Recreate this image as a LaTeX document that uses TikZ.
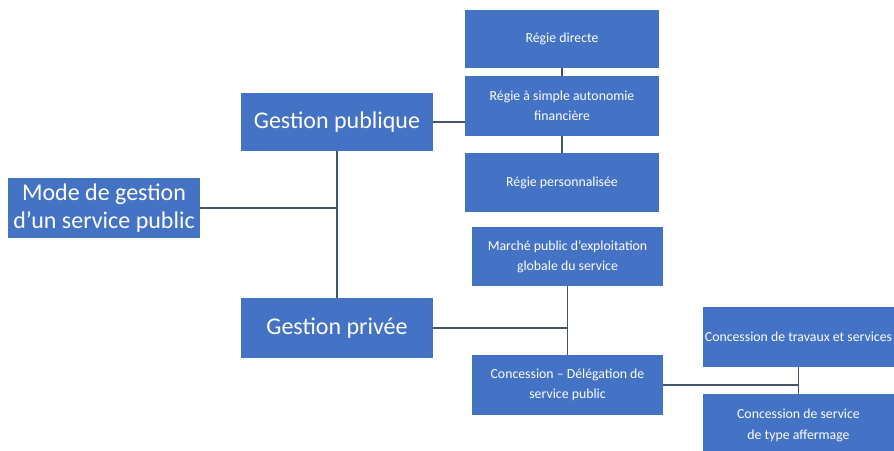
\documentclass[tikz,border=0pt]{standalone}
\usepackage{fontspec}
\setmainfont{Carlito}
\usepackage{tikz}
\usetikzlibrary{positioning, calc}
\definecolor{box_blue}{RGB}{68,114,196}
\definecolor{line_grey}{RGB}{68,84,106}

\begin{document}
\begin{tikzpicture}[x=1pt, y=-1pt,
    every node/.style={fill=box_blue, text=white, inner sep=0pt, align=center},
    bigbox/.style={minimum width=192pt, minimum height=60pt, font=\fontsize{24}{28}\selectfont},
    smallbox/.style={minimum width=194pt, minimum height=59pt, font=\fontsize{13.8}{20}\selectfont},
    link/.style={line_grey, line width=1.3pt}]
      \useasboundingbox (0,0) rectangle (894,450);
      \node[bigbox] (mode) at (104,208) {Mode de gestion\\d'un service public};
      \node[bigbox, minimum height=58pt] (gpub) at (337,122) {Gestion publique};
      \node[bigbox] (gpriv) at (337,328) {Gestion privée};
      \node[smallbox, minimum height=58pt] (rdir) at (562,39) {Régie directe};
      \node[smallbox, minimum height=60pt] (raut) at (562,106) {Régie à simple autonomie\\financière};
      \node[smallbox] (rpers) at (562,182.5) {Régie personnalisée};
      \node[smallbox, minimum width=191pt] (marche) at (567.5,256.5) {Marché public d'exploitation\\globale du service};
      \node[smallbox, minimum width=191pt, minimum height=60pt] (dsp) at (567.5,385) {Concession -- Délégation de\\service public};
      \node[smallbox, minimum width=191pt, minimum height=60pt] (travaux) at (798.5,337) {Concession de travaux et services};
      \node[smallbox, minimum width=191pt, minimum height=62pt, font=\fontsize{13.8}{21}\selectfont] (affermage) at (798.5,425) {Concession de service\\de type affermage};
      % branches
      \draw[link] (mode) -- (mode -| gpub);
      \draw[link] (gpub) -- (gpriv);
      \draw[link] (gpub.east) -- (gpub.east -| raut.west);
      \draw[link] (rdir) -- (raut);
      \draw[link] (raut) -- (rpers);
      \draw[link] (gpriv) -- (gpriv -| marche);
      \draw[link] (marche) -- (dsp);
      \draw[link] (dsp.east) -- (dsp.east -| travaux);
      \draw[link] (travaux) -- (affermage);
    \end{tikzpicture}
\end{document}
